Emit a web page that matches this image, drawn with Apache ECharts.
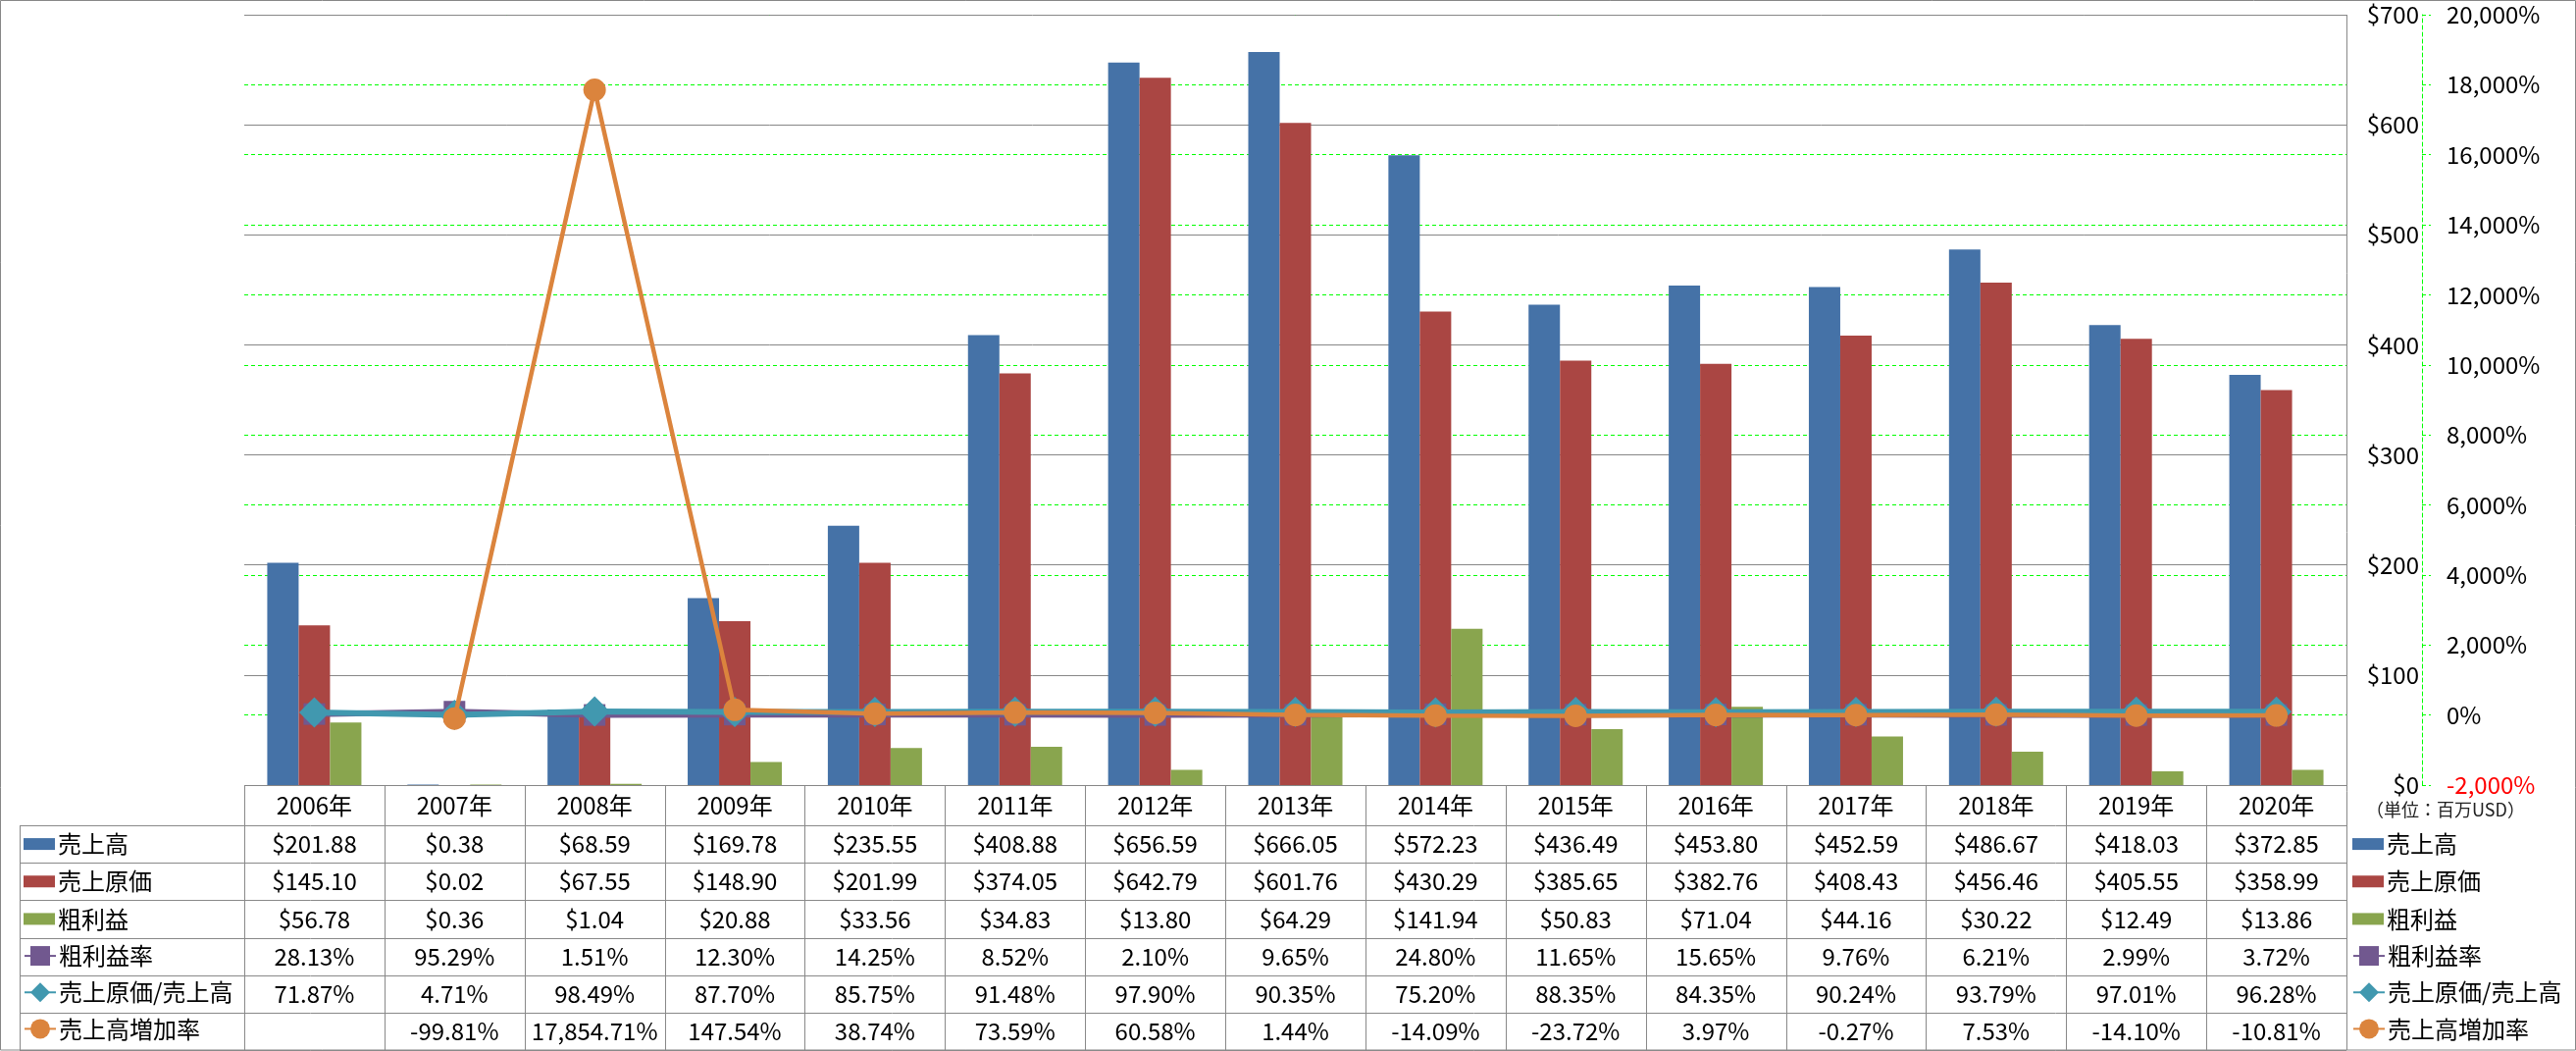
<!DOCTYPE html>
<html><head><meta charset="utf-8">
<script src="https://cdn.jsdelivr.net/npm/echarts@6/dist/echarts.min.js"></script>
<style>html,body{margin:0;padding:0;background:#fff}#c{width:2626px;height:1071px}</style>
</head><body><div id="c"></div>
<script>
// ---- data ----
const years = ['2006年','2007年','2008年','2009年','2010年','2011年','2012年','2013年','2014年','2015年','2016年','2017年','2018年','2019年','2020年'];
const sales = [201.88, 0.38, 68.59, 169.78, 235.55, 408.88, 656.59, 666.05, 572.23, 436.49, 453.80, 452.59, 486.67, 418.03, 372.85];
const cogs = [145.10, 0.02, 67.55, 148.90, 201.99, 374.05, 642.79, 601.76, 430.29, 385.65, 382.76, 408.43, 456.46, 405.55, 358.99];
const grossProfit = [56.78, 0.36, 1.04, 20.88, 33.56, 34.83, 13.80, 64.29, 141.94, 50.83, 71.04, 44.16, 30.22, 12.49, 13.86];
const grossMargin = [28.13, 95.29, 1.51, 12.30, 14.25, 8.52, 2.10, 9.65, 24.80, 11.65, 15.65, 9.76, 6.21, 2.99, 3.72];
const cogsRatio = [71.87, 4.71, 98.49, 87.70, 85.75, 91.48, 97.90, 90.35, 75.20, 88.35, 84.35, 90.24, 93.79, 97.01, 96.28];
const salesGrowth = [null, -99.81, 17854.71, 147.54, 38.74, 73.59, 60.58, 1.44, -14.09, -23.72, 3.97, -0.27, 7.53, -14.10, -10.81];
const seriesNames = ['売上高','売上原価','粗利益','粗利益率','売上原価/売上高','売上高増加率'];
const leftAxisRange = [0, 700, 100];
const rightAxisRange = [-2000, 20000, 2000];
const unitNote = '（単位：百万USD）';

// ---- layout / style ----
const FONT = "'Noto Sans CJK JP', 'Noto Sans', sans-serif";
const PL = 249, PR = 2392, PT = 15, PB = 800, BOTTOM = 1070;
const HEAD = 41, ROWH = (BOTTOM - PB - HEAD) / 6;
const colW = (PR - PL) / years.length;
const colors = ['#4572A7', '#AA4643', '#89A54E', '#71588F', '#4198AF', '#DB843D'];
const GRID_GRAY = '#878787', TABLE_GRAY = '#898989', GREEN = '#00FF00';

const usd = v => '$' + v.toFixed(2);
const pct = v => v == null ? '' : v.toLocaleString('en-US', {minimumFractionDigits: 2, maximumFractionDigits: 2}) + '%';
const rows = [
  {values: sales, fmt: usd}, {values: cogs, fmt: usd}, {values: grossProfit, fmt: usd},
  {values: grossMargin, fmt: pct}, {values: cogsRatio, fmt: pct}, {values: salesGrowth, fmt: pct}
];

const labelBase = {interval: 0, verticalAlign: 'middle', fontSize: 24, color: '#000', fontFamily: FONT};
const xAxes = [{
  type: 'category', data: years, position: 'bottom', offset: 0,
  axisLine: {show: false}, axisTick: {show: false}, splitLine: {show: false},
  axisLabel: Object.assign({margin: HEAD / 2}, labelBase)
}];
rows.forEach((r, i) => {
  xAxes.push({
    type: 'category', data: years, position: 'bottom', offset: HEAD + ROWH * i,
    axisLine: {show: false}, axisTick: {show: false}, splitLine: {show: false},
    axisLabel: Object.assign({margin: ROWH / 2, formatter: (v, idx) => r.fmt(r.values[idx])}, labelBase)
  });
});

const dashed = [4, 3];
const option = {
  animation: false,
  backgroundColor: '#fff',
  textStyle: {fontFamily: FONT},
  grid: {left: PL, right: 2626 - PR, top: PT, bottom: 1071 - PB, containLabel: false, outerBoundsMode: 'none'},
  xAxis: xAxes,
  yAxis: [{
    type: 'value', min: leftAxisRange[0], max: leftAxisRange[1], interval: leftAxisRange[2],
    position: 'right', offset: 77, z: 1,
    axisLine: {show: false}, axisTick: {show: false},
    axisLabel: {inside: true, margin: 3, fontSize: 24, color: '#000', fontFamily: FONT, formatter: v => '$' + v},
    splitLine: {show: true, lineStyle: {color: GRID_GRAY, width: 1}}
  }, {
    type: 'value', min: rightAxisRange[0], max: rightAxisRange[1], interval: rightAxisRange[2],
    position: 'right', offset: 77, z: 0,
    axisLine: {show: true, lineStyle: {color: GREEN, width: 1, type: dashed}},
    axisTick: {show: true, inside: false, length: 9, lineStyle: {color: GREEN, width: 1, type: dashed}},
    axisLabel: {margin: 25, fontSize: 24, fontFamily: FONT,
      color: v => (Number(v) < 0 ? '#FF0000' : '#000'),
      formatter: v => v.toLocaleString('en-US') + '%'},
    splitLine: {show: true, lineStyle: {color: GREEN, width: 1, type: dashed}}
  }],
  legend: [
    {left: 24, top: PB + HEAD + ROWH * 0.5 - 12},
    {left: 24, top: PB + HEAD + ROWH * 3.5 - 12.5, line: true},
    {left: PR + 6, top: PB + HEAD + ROWH * 0.5 - 12},
    {left: PR + 6, top: PB + HEAD + ROWH * 3.5 - 12.5, line: true}
  ].map(l => ({
    orient: 'vertical', left: l.left, top: l.top, padding: 0, selectedMode: false,
    itemWidth: 32, itemHeight: l.line ? 25 : 12, itemGap: ROWH - (l.line ? 25 : 24),
    textStyle: {fontSize: 24, lineHeight: 24, color: '#000', fontFamily: FONT, padding: [0, 0, 0, -2]},
    data: l.line ? seriesNames.slice(3) : seriesNames.slice(0, 3).map(n => ({name: n, icon: 'rect'}))
  })),
  series: [
    {name: seriesNames[0], type: 'bar', data: sales, barWidth: 32, barGap: '0%', itemStyle: {color: colors[0]}},
    {name: seriesNames[1], type: 'bar', data: cogs, barWidth: 32, barGap: '0%', itemStyle: {color: colors[1]}},
    {name: seriesNames[2], type: 'bar', data: grossProfit, barWidth: 32, barGap: '0%', itemStyle: {color: colors[2]}},
    {name: seriesNames[3], type: 'line', yAxisIndex: 1, data: grossMargin, symbol: 'rect', symbolSize: 22,
      itemStyle: {color: colors[3]}, lineStyle: {color: colors[3], width: 6}, z: 3},
    {name: seriesNames[4], type: 'line', yAxisIndex: 1, data: cogsRatio, symbol: 'diamond', symbolSize: 31,
      itemStyle: {color: colors[4]}, lineStyle: {color: colors[4], width: 6}, z: 4},
    {name: seriesNames[5], type: 'line', yAxisIndex: 1, data: salesGrowth, symbol: 'circle', symbolSize: 23,
      itemStyle: {color: colors[5]}, lineStyle: {color: colors[5], width: 4.5}, z: 5}
  ],
  graphic: []
};

// table frame & borders
const g = option.graphic;
const line = (x1, y1, x2, y2, c) => g.push({type: 'line', silent: true, z: 1,
  shape: {x1, y1, x2, y2}, style: {stroke: c || TABLE_GRAY, lineWidth: 1}});
g.push({type: 'rect', silent: true, shape: {x: 0.5, y: 0.5, width: 2625, height: 1069.5},
  style: {fill: 'none', stroke: GRID_GRAY, lineWidth: 1}});
line(PR + 0.5, PT, PR + 0.5, BOTTOM);
line(PL, PB + 0.5, PR, PB + 0.5);
for (let k = 0; k <= 6; k++) {
  const y = Math.round(PB + HEAD + ROWH * k) + 0.5;
  line(20, y, PR, y);
}
line(20.5, PB + HEAD, 20.5, BOTTOM);
for (let k = 0; k < years.length; k++) {
  const x = Math.round(PL + colW * k) + 0.5;
  line(x, PB, x, BOTTOM);
}
g.push({type: 'text', silent: true, left: 2412, top: 816,
  style: {text: unitNote, fontSize: 18, fill: '#222', fontFamily: FONT}});

const chart = echarts.init(document.getElementById('c'), null, {renderer: 'canvas'});
chart.setOption(option);
</script>
</body></html>
